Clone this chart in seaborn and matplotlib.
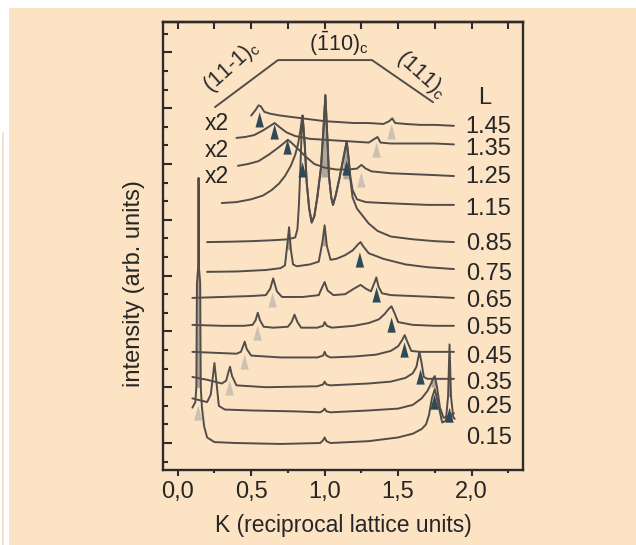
import numpy as np
import pandas as pd
import matplotlib
matplotlib.use("Agg")
import matplotlib.pyplot as plt
from matplotlib.path import Path
from matplotlib.lines import Line2D
from matplotlib.patches import Rectangle
import seaborn as sns

# ---------------- data ----------------
L_labels = ["1.45", "1.35", "1.25", "1.15", "0.85", "0.75", "0.65", "0.55", "0.45", "0.35", "0.25", "0.15"]

k_145 = [0.50, 0.53, 0.55, 0.565, 0.59, 0.63, 0.70, 0.80, 0.90, 1.00, 1.10, 1.20, 1.30, 1.40, 1.44, 1.46, 1.48, 1.55, 1.65, 1.75, 1.88]
i_145 = [17.6, 17.9, 18.15, 18.1, 17.8, 17.7, 17.6, 17.5, 17.4, 17.3, 17.25, 17.2, 17.2, 17.15, 17.3, 17.45, 17.2, 17.15, 17.1, 17.1, 17.05]

k_135 = [0.40, 0.46, 0.52, 0.58, 0.63, 0.66, 0.69, 0.74, 0.80, 0.90, 1.00, 1.10, 1.20, 1.30, 1.34, 1.36, 1.38, 1.45, 1.60, 1.75, 1.88]
i_135 = [16.4, 16.45, 16.55, 16.8, 17.05, 17.2, 17.0, 16.7, 16.5, 16.35, 16.3, 16.25, 16.2, 16.15, 16.35, 16.45, 16.15, 16.1, 16.1, 16.1, 16.05]

k_125 = [0.41, 0.48, 0.55, 0.62, 0.68, 0.72, 0.75, 0.78, 0.82, 0.87, 0.93, 1.00, 1.08, 1.16, 1.22, 1.25, 1.28, 1.32, 1.45, 1.60, 1.75, 1.88]
i_125 = [14.9, 15.0, 15.15, 15.5, 15.85, 16.1, 16.3, 16.1, 15.8, 15.4, 15.0, 14.8, 14.7, 14.7, 14.75, 14.95, 14.75, 14.6, 14.5, 14.45, 14.4, 14.35]

k_115 = [0.30, 0.40, 0.50, 0.58, 0.64, 0.69, 0.73, 0.77, 0.80, 0.82, 0.835, 0.845,
         0.85, 0.865, 0.878, 0.895, 0.912, 0.93, 0.95, 0.975, 0.993, 1.005, 1.018, 1.03, 1.045, 1.057,
         1.075, 1.10, 1.125, 1.14, 1.15, 1.162, 1.175, 1.19, 1.22, 1.28, 1.40, 1.55, 1.70, 1.88]
i_115 = [12.9, 12.95, 13.1, 13.3, 13.6, 13.95, 14.35, 14.9, 15.5, 16.1, 16.8, 17.4,
         17.6, 16.0, 14.0, 12.6, 11.85, 12.2, 13.2, 14.8, 17.0, 18.7, 16.5, 14.3, 13.2, 12.8,
         13.3, 14.2, 15.2, 15.8, 16.2, 15.4, 14.3, 13.6, 13.1, 12.95, 12.9, 12.85, 12.8, 12.8]

k_085 = [0.20, 0.35, 0.50, 0.65, 0.75, 0.80, 0.815, 0.825, 0.835, 0.845,
         0.85, 0.865, 0.878, 0.895, 0.912, 0.93, 0.95, 0.975, 0.993, 1.005, 1.018, 1.03, 1.045, 1.057,
         1.075, 1.10, 1.125, 1.14, 1.15, 1.162, 1.175, 1.19, 1.22, 1.26, 1.30, 1.36, 1.45, 1.60, 1.75, 1.88]
i_085 = [10.8, 10.82, 10.85, 10.9, 10.95, 11.05, 11.5, 12.8, 14.8, 17.0,
         17.6, 16.0, 14.0, 12.6, 11.85, 12.2, 13.2, 14.8, 17.0, 18.7, 16.5, 14.3, 13.2, 12.8,
         13.3, 14.2, 15.2, 15.8, 16.2, 15.4, 14.2, 13.2, 12.6, 12.2, 11.8, 11.4, 11.1, 10.95, 10.85, 10.8]

k_075 = [0.20, 0.40, 0.60, 0.70, 0.73, 0.745, 0.758, 0.77, 0.785, 0.81, 0.90, 0.96, 0.985, 1.0, 1.015, 1.04,
         1.08, 1.14, 1.19, 1.23, 1.245, 1.26, 1.30, 1.40, 1.55, 1.70, 1.88]
i_075 = [9.2, 9.22, 9.3, 9.4, 9.55, 10.6, 11.6, 10.4, 9.6, 9.5, 9.6, 9.75, 10.8, 11.7, 10.6, 9.85,
         9.9, 10.1, 10.35, 10.7, 10.8, 10.6, 10.2, 9.9, 9.6, 9.45, 9.35]

k_065 = [0.10, 0.30, 0.50, 0.60, 0.63, 0.65, 0.675, 0.71, 0.85, 0.96, 0.985, 1.0, 1.02, 1.06, 1.14, 1.20,
         1.245, 1.28, 1.315, 1.338, 1.352, 1.367, 1.39, 1.45, 1.60, 1.75, 1.88]
i_065 = [7.8, 7.85, 7.9, 7.95, 8.3, 8.85, 8.15, 7.85, 7.85, 7.95, 8.4, 8.65, 8.2, 7.95, 8.0, 8.3,
         8.5, 8.3, 8.15, 8.6, 8.9, 8.4, 8.05, 7.95, 7.9, 7.85, 7.8]

k_055 = [0.10, 0.30, 0.45, 0.51, 0.53, 0.545, 0.56, 0.585, 0.65, 0.75, 0.775, 0.795, 0.815, 0.84, 0.95, 0.99,
         1.0, 1.015, 1.05, 1.20, 1.30, 1.37, 1.41, 1.435, 1.455, 1.475, 1.50, 1.60, 1.75, 1.88]
i_055 = [6.35, 6.3, 6.3, 6.35, 6.6, 7.0, 6.6, 6.25, 6.2, 6.25, 6.5, 6.9, 6.5, 6.2, 6.2, 6.3,
         6.5, 6.3, 6.2, 6.3, 6.45, 6.65, 6.95, 7.2, 7.35, 7.0, 6.5, 6.35, 6.3, 6.3]

k_045 = [0.10, 0.25, 0.40, 0.43, 0.445, 0.456, 0.47, 0.50, 0.70, 0.95, 0.99, 1.0, 1.012, 1.04, 1.20, 1.35,
         1.45, 1.50, 1.525, 1.545, 1.565, 1.59, 1.65, 1.75, 1.88]
i_045 = [4.9, 4.85, 4.8, 4.9, 5.2, 5.45, 5.05, 4.7, 4.6, 4.6, 4.7, 4.9, 4.7, 4.6, 4.65, 4.75,
         4.95, 5.2, 5.5, 5.8, 5.4, 4.95, 4.9, 4.9, 4.9]

k_035 = [0.10, 0.20, 0.30, 0.33, 0.345, 0.356, 0.37, 0.40, 0.60, 0.95, 0.99, 1.0, 1.012, 1.04, 1.30, 1.45,
         1.55, 1.60, 1.625, 1.645, 1.66, 1.675, 1.70, 1.80, 1.88]
i_035 = [3.55, 3.4, 3.2, 3.35, 3.8, 4.1, 3.6, 3.1, 3.0, 3.05, 3.15, 3.3, 3.15, 3.1, 3.2, 3.3,
         3.5, 3.75, 4.1, 4.9, 4.3, 3.55, 3.45, 3.45, 3.45]

k_025 = [0.10, 0.15, 0.20, 0.225, 0.24, 0.25, 0.262, 0.28, 0.32, 0.50, 0.80, 0.97, 0.99, 1.0, 1.012, 1.04,
         1.30, 1.50, 1.60, 1.66, 1.70, 1.725, 1.74, 1.75, 1.765, 1.785, 1.81, 1.84, 1.88]
i_025 = [2.4, 2.3, 2.2, 2.6, 3.6, 4.3, 3.4, 2.0, 1.8, 1.75, 1.7, 1.65, 1.75, 1.85, 1.7, 1.65,
         1.75, 1.85, 2.05, 2.4, 2.8, 3.2, 3.5, 3.6, 3.0, 1.9, 1.35, 1.45, 1.6]

k_015 = [0.10, 0.12, 0.127, 0.131, 0.139, 0.142, 0.145, 0.153, 0.157, 0.165, 0.18, 0.20, 0.25, 0.40, 0.70, 0.97, 0.99, 1.0,
         1.012, 1.04, 1.30, 1.50, 1.60, 1.66, 1.69, 1.71, 1.73, 1.75, 1.775, 1.80, 1.825, 1.84, 1.85, 1.86,
         1.875, 1.885]
i_015 = [1.9, 2.2, 3.0, 8.6, 9.4, 14.25, 9.4, 8.6, 3.0, 1.9, 0.9, 0.3, 0.05, 0.0, -0.05, 0.0, 0.15, 0.3,
         0.1, 0.0, 0.1, 0.3, 0.5, 0.75, 1.0, 1.5, 2.4, 2.9, 2.0, 1.1, 1.2, 2.5, 5.3, 2.5,
         1.4, 1.3]

# triangle markers (K, intensity)
dark_k = [0.558, 0.66, 0.748, 0.85, 1.15, 1.24, 1.354, 1.456, 1.544, 1.653, 1.748, 1.85]
dark_i = [17.37, 16.72, 15.91, 14.68, 14.78, 9.84, 7.96, 6.34, 5.0, 3.55, 2.2, 1.5]
light_k = [1.456, 1.354, 1.25, 0.646, 0.544, 0.456, 0.354, 0.14]
light_i = [16.72, 15.75, 14.14, 7.69, 5.91, 4.35, 2.96, 1.61]

x_tick_values = [0.0, 0.5, 1.0, 1.5, 2.0]
x_tick_labels = ["0,0", "0,5", "1,0", "1,5", "2,0"]

curves = {
    "1.45": (k_145, i_145), "1.35": (k_135, i_135), "1.25": (k_125, i_125),
    "1.15": (k_115, i_115), "0.85": (k_085, i_085), "0.75": (k_075, i_075),
    "0.65": (k_065, i_065), "0.55": (k_055, i_055), "0.45": (k_045, i_045),
    "0.35": (k_035, i_035), "0.25": (k_025, i_025), "0.15": (k_015, i_015),
}

rows = []
for lab in L_labels:
    ks, iv = curves[lab]
    for j, (k, v) in enumerate(zip(ks, iv)):
        rows.append({"L": lab, "K": k, "I": v, "order": j})
df = pd.DataFrame(rows)

mk = pd.DataFrame({"K": dark_k + light_k, "I": dark_i + light_i,
                   "kind": ["dark"] * len(dark_k) + ["light"] * len(light_k)})

# ---------------- style ----------------
BG = "#fbe3c4"
LINE = "#524d48"
SPINE = "#2c2c2c"
TXT = "#262626"
sns.set_theme(style="ticks")
plt.rcParams["font.family"] = ["Liberation Sans", "DejaVu Sans"]
plt.rcParams["mathtext.fontset"] = "custom"
plt.rcParams["mathtext.rm"] = "Liberation Sans"
plt.rcParams["mathtext.it"] = "Liberation Sans"
plt.rcParams["mathtext.bf"] = "Liberation Sans:bold"

fig = plt.figure(figsize=(6.36, 5.45), dpi=100, facecolor="white")
fig.add_artist(Rectangle((9 / 636, 0), 1, 1 - 8 / 545, transform=fig.transFigure,
                         facecolor=BG, edgecolor="none", zorder=-10))
fig.add_artist(Line2D([2.5 / 636, 2.5 / 636], [0, 1 - 133 / 545], transform=fig.transFigure,
                      color="#f1dabd", lw=1.2, zorder=-10))

ax = fig.add_axes([163 / 636, 1 - 470 / 545, 360 / 636, 448 / 545])
ax.set_zorder(1)
ax.set_facecolor(BG)

sns.lineplot(data=df, x="K", y="I", units="L", estimator=None, sort=False,
             color=LINE, lw=1.4, ax=ax, legend=False, zorder=3)

# grey shading inside the strongest peaks
shaded = [("0.15", 0.125, 0.16), ("0.85", 0.96, 1.04), ("0.85", 1.12, 1.175),
          ("0.75", 0.74, 0.78), ("0.75", 0.98, 1.02), ("0.25", 1.72, 1.78), ("0.15", 1.83, 1.87)]
for lab, a, b in shaded:
    ks, iv = map(np.asarray, curves[lab])
    m = (ks >= a) & (ks <= b)
    ax.fill_between(ks[m], iv[m], iv[m].min(), color="#b0a69b", lw=0, zorder=2)

tri = Path([(-0.55, -1.0), (0.55, -1.0), (0.0, 1.0), (-0.55, -1.0)],
           [Path.MOVETO, Path.LINETO, Path.LINETO, Path.CLOSEPOLY])
sns.scatterplot(data=mk[mk.kind == "light"], x="K", y="I", marker=tri, s=120,
                color="#cdc1b3", edgecolor="none", ax=ax, zorder=4, legend=False)
sns.scatterplot(data=mk[mk.kind == "dark"], x="K", y="I", marker=tri, s=120,
                color="#2e4a56", edgecolor="none", ax=ax, zorder=5, legend=False)

ax.set_xlim(-0.10, 2.35)
ax.set_ylim(-1.45, 22.63)

# axes / ticks
for s in ax.spines.values():
    s.set_visible(True)
    s.set_color(SPINE)
    s.set_linewidth(1.7)
ax.set_xticks(x_tick_values)
ax.set_xticklabels(x_tick_labels)
ax.set_xticks(np.arange(0.25, 2.3, 0.5), minor=True)
ax.tick_params(axis="x", which="major", direction="out", length=4, width=1.5, color=SPINE,
               labelsize=17, pad=4, labelcolor=TXT)
ax.tick_params(axis="x", which="minor", direction="out", length=2.5, width=1.5, color=SPINE)
ax.set_yticks(np.arange(0, 22, 3))
ax.set_yticks(np.arange(-1, 23, 1), minor=True)
ax.tick_params(axis="y", which="major", direction="in", length=6.5, width=1.5, color=SPINE,
               labelleft=False)
ax.tick_params(axis="y", which="minor", direction="in", length=3.6, width=1.5, color=SPINE)

top = ax.secondary_xaxis("top")
top.set_xticks(np.arange(0, 2.3, 0.25))
top.tick_params(axis="x", direction="in", length=5, width=1.5, color=SPINE, labeltop=False)
top.spines["top"].set_linewidth(1.7)
top.spines["top"].set_color(SPINE)

ax.set_xlabel("K (reciprocal lattice units)", fontsize=16.5, color=TXT, labelpad=8)
ax.set_ylabel("intensity (arb. units)", fontsize=17, color=TXT)
ax.yaxis.set_label_coords(-0.05, 0.417)

# L labels to the right of each curve
label_y = [16.99, 15.81, 14.30, 12.58, 10.70, 9.09, 7.63, 6.18, 4.62, 3.23, 1.94, 0.27]
for lab, yy in zip(L_labels, label_y):
    ax.text(1.96, yy, lab, fontsize=17, ha="left", va="center", color=TXT, zorder=6)
ax.text(2.09, 18.55, "L", fontsize=17, ha="center", va="center", color=TXT)

for yy in [17.2, 15.7, 14.3]:
    ax.text(0.265, yy, "x2", fontsize=16.5, ha="center", va="center", color=TXT)

# reflection annotation at the top
ax.plot([0.1444, 0.3194, 0.5806, 0.75], [0.810, 0.915, 0.915, 0.821], transform=ax.transAxes,
        color=LINE, lw=1.4, clip_on=False)
ax.text(0.190, 0.900, "(11-1)$_{c}$", transform=ax.transAxes, rotation=42, fontsize=15.5,
        ha="center", va="center", color=TXT)
ax.text(0.487, 0.952, r"($\bar{1}$10)$_{c}$", transform=ax.transAxes, fontsize=15.5,
        ha="center", va="center", color=TXT)
ax.text(0.717, 0.882, "(111)$_{c}$", transform=ax.transAxes, rotation=-42, fontsize=15.5,
        ha="center", va="center", color=TXT)

fig.savefig("out.png", dpi=100, facecolor="white")
